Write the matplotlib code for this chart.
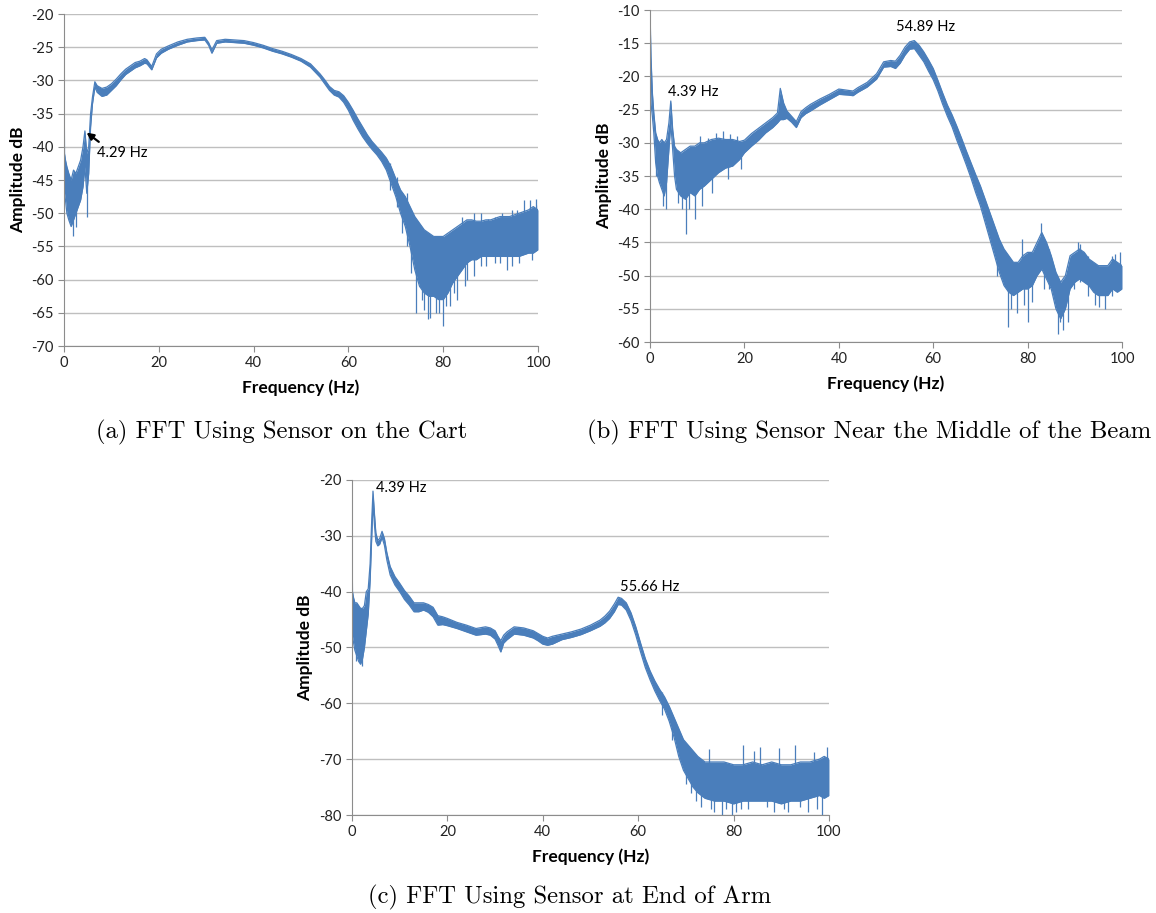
import matplotlib
matplotlib.use("Agg")
import matplotlib.pyplot as plt

plt.rcParams["axes.unicode_minus"] = False

# ---- data (upper / lower edge of the trace) ----
a_freq = [0, 0.1, 0.3, 0.6, 1.0, 1.5, 2.0, 2.5, 3.0, 3.5, 4.0, 4.4, 4.8, 5.2, 5.6, 6.0, 6.5, 7.0,
          8, 9, 10, 11, 12, 13, 14, 15, 16, 17, 17.5, 18.5, 19.5, 20.5, 22, 24, 26, 28, 29.7, 30.5,
          31.2, 32.2, 34, 36, 38, 40, 42, 44, 46, 48, 50, 52, 54, 55, 56, 57, 58, 59, 60, 61, 62,
          63, 64, 65, 66, 67, 68, 69, 70, 71, 72, 73, 74, 75, 76, 77, 78, 79, 80, 81, 82, 83, 84,
          85, 86, 87, 88, 89, 90, 92, 94, 96, 98, 99, 100]
a_hi = [-28, -41, -42, -43, -44, -45, -43.5, -44, -43, -42, -40, -37.6, -41, -40, -35, -32.5, -30.2, -30.8,
        -31.2, -31, -30.5, -29.8, -29, -28.3, -27.8, -27.3, -27.1, -26.7, -26.9, -27.9, -26, -25.3, -24.8, -24.2, -23.8, -23.6, -23.5, -24.3,
        -25.4, -24, -23.8, -23.9, -24, -24.3, -24.7, -25.2, -25.6, -26.1, -26.7, -27.5, -29, -29.9, -30.9, -31.5, -31.7, -32.3, -33.3, -34.5, -35.8,
        -37, -38.2, -39.2, -40, -40.8, -41.7, -43, -44.8, -46.5, -47.5, -49, -50.5, -51.5, -52.5, -53, -53.5, -53.5, -53.5, -53, -52.5, -52, -51.5,
        -51, -51, -51.2, -51.2, -51, -51, -50.5, -50.5, -50, -49.5, -49, -49.5]
a_lo = [-42, -47, -48, -50, -51, -52, -51, -50, -49, -48, -46, -43, -47, -44, -37, -33.5, -31, -31.8,
        -32.4, -32.2, -31.5, -30.8, -29.9, -29.1, -28.6, -28.1, -27.8, -27.4, -27.5, -28.4, -26.6, -25.9, -25.3, -24.7, -24.2, -24, -23.9, -24.7,
        -25.9, -24.4, -24.2, -24.3, -24.4, -24.7, -25.1, -25.6, -26, -26.5, -27.1, -28, -29.5, -30.5, -31.5, -32.2, -32.5, -33.3, -34.5, -36, -37.3,
        -38.5, -39.5, -40.4, -41.2, -42.2, -43.5, -45.5, -47.5, -50, -52, -55, -58.5, -61, -62, -62.5, -62.5, -63, -63, -62, -60.5, -59.5, -58.5,
        -57.5, -57, -57, -56.5, -56.5, -56.5, -56.5, -56.5, -56.5, -56, -56, -55.5]
a_spike_freq = [1.8, 2.6, 4.8, 68.8, 70.3, 71.2, 72.4, 73.2, 74.2, 75.6, 76, 76.8, 77.2, 78.5, 79.2, 80.0, 80.5,
                81.5, 82.2, 83, 84, 84.5, 85, 86.5, 86.6, 88, 89, 89.5, 91, 92, 92.5, 93.5, 94.5, 95.5, 96,
                97, 98.3, 98.8, 99.5, 100]
a_spike_lo = [-53.5, -52, -50.5, -46.5, -49, -53, -55, -59, -65, -63, -64.5, -66, -65.8, -65, -65, -67, -64,
              -64, -62, -63, -55, -61, -60, -55, -59.5, -58, -58, -55, -57.5, -57.5, -54, -58.5, -58, -54, -57.5,
              -56, -53, -57, -55.5, -54]
a_spike_hi = [-45, -44, -42, -42.5, -44.5, -47, -47, -50, -55, -55, -60, -58, -60, -57, -60, -60, -60,
              -57, -58, -58, -50.5, -57, -54, -50, -56, -50, -55, -50.8, -50.5, -55, -50, -55, -49.5, -49.5, -55,
              -48, -48, -54.5, -47.8, -48.7]

b_freq = [0, 0.2, 0.5, 0.8, 1.2, 1.6, 2.0, 2.5, 3.0, 3.5, 4.0, 4.4, 4.8, 5.2, 5.6, 6.5, 7.5, 8.5, 9.5,
          10.5, 11.5, 13, 14.5, 16, 17.5, 19, 20, 21.5, 23, 24.5, 26, 27, 27.6, 28.3, 29, 30, 31, 32,
          33, 34, 36, 38, 40, 42, 43, 44, 46, 48, 49.5, 51, 52, 53, 54, 55, 56, 57, 58, 59, 60, 61,
          62, 63, 64, 65, 66, 67, 68, 69, 70, 71, 72, 73, 74, 75, 76, 77, 78, 79, 80, 81, 82, 83,
          84, 85, 86, 87, 88, 89, 90, 91, 92, 93, 94, 95, 96, 97, 98, 99, 100]
b_hi = [-10, -17, -22.5, -25.5, -28.5, -29.5, -30, -29.5, -30, -29.5, -27, -23.7, -28, -30.5, -31, -31.5, -31, -30.5, -30.5,
        -30, -30, -29.5, -29.3, -29.5, -29.5, -29.8, -29.6, -28.6, -27.8, -27, -26.2, -25.5, -21.8, -24, -25.2, -26, -26.8, -25.3,
        -24.7, -24.2, -23.4, -22.7, -21.9, -22.1, -22.2, -21.7, -20.9, -19.6, -17.8, -17.6, -17.7, -16.8, -15.6, -14.8, -14.6, -15.3, -16.3, -17.5, -18.8, -20.6,
        -22.5, -24.3, -25.8, -27.5, -29.3, -31.2, -33, -34.8, -36.5, -38.5, -40.5, -42.5, -44.5, -46, -47, -48, -48, -47, -46.5, -46.5, -45, -43.5,
        -45, -47, -49.5, -51, -50, -47, -46.5, -46, -46.5, -47.5, -48, -48.5, -48.5, -48.5, -47.5, -48, -48.5]
b_lo = [-20, -24, -26, -28.5, -33, -35, -36, -37, -38, -36, -31, -27, -31, -35, -37, -38, -38.5, -37.5, -38,
        -37, -36.5, -35.5, -34.5, -33.8, -33.5, -32.5, -31.5, -30.5, -29.6, -28.5, -27.7, -27, -26.5, -26.5, -26.3, -26.9, -27.7, -26.2,
        -25.6, -25.2, -24.3, -23.5, -22.7, -22.8, -22.9, -22.4, -21.6, -20.4, -18.6, -18.5, -18.8, -18, -16.8, -15.9, -15.8, -16.8, -17.8, -19.2, -20.5, -22.2,
        -24.2, -26, -27.6, -29.6, -31.4, -33.3, -35.3, -37.5, -39.5, -42, -44.5, -47, -49.5, -51.5, -52.5, -53, -52.5, -52, -52, -51.5, -50, -49,
        -50.5, -52, -55, -56.5, -55, -52, -51, -50.5, -51, -51.5, -52.5, -53, -53, -53, -52, -52.5, -52]
b_spike_freq = [1.3, 2.7, 3.3, 5.9, 6.8, 7.6, 8.2, 9.6, 10.5, 11, 12.3, 13.2, 14, 15.5, 16.5, 17, 18.5, 19.2,
                73.5, 75.8, 76.5, 77.8, 78.8, 79.3, 80.1, 81, 82.9, 83.5, 84.5, 86.4, 86.9, 87.6, 88.5, 89.8,
                90.6, 91.2, 92.7, 94.3, 95.2, 96.5, 97.8, 98.6, 99.5]
b_spike_lo = [-35, -39.5, -40, -39, -40, -43.8, -40, -41.5, -33, -39.5, -33, -37.5, -32, -31, -35.5, -31.5, -31, -34,
              -50, -57.8, -55, -55.6, -50, -54.5, -57, -54, -47, -52, -52, -58.8, -57, -58.2, -57, -52,
              -50, -51, -53, -54.5, -54.8, -55, -53, -52, -51]
b_spike_hi = [-29, -33, -34, -33, -34, -37, -36, -36, -29, -35, -29.3, -34, -28.5, -28.2, -32.5, -28.6, -29, -31.5,
              -46, -52, -50, -51, -44.5, -50, -51, -50, -42, -48, -46, -54, -53, -54, -52, -46.8,
              -45, -45.3, -47, -50, -52, -51, -47, -46.8, -46.5]

c_freq = [0, 0.1, 0.3, 0.6, 1.0, 1.4, 1.8, 2.2, 2.6, 3.0, 3.4, 3.8, 4.1, 4.4, 4.7, 5.0, 5.4, 5.8,
          6.3, 6.8, 7.3, 8, 9, 10, 11, 12, 13, 14, 15, 16, 17, 18, 19, 20, 22, 24, 26, 28, 29, 30,
          30.6, 31.2, 31.8, 32.5, 34, 36, 38, 39, 40, 41, 42, 44, 46, 48, 50, 52, 53, 54, 55, 55.8,
          56.5, 57.5, 58.5, 59.5, 60.5, 61.5, 62.5, 63.5, 64.5, 65.5, 66.5, 67.5, 68.5, 69.5, 70.5,
          71.5, 72.5, 74, 76, 78, 80, 82, 84, 86, 88, 90, 92, 94, 96, 98, 99, 100]
c_hi = [-31.5, -40, -41, -42, -42, -42.5, -43, -43, -42.5, -40, -39.5, -35, -28, -22, -26, -29.5, -30.8, -30.5,
        -29.2, -30.5, -33, -35.5, -37.3, -38.5, -39.8, -40.8, -42, -42, -42, -42.3, -42.8, -44.3, -44.5, -44.8, -45.5, -46, -46.6, -46.3, -46.5, -47,
        -48, -48.8, -47.8, -47.2, -46.3, -46.5, -47, -47.5, -48, -48.3, -48, -47.6, -47.2, -46.7, -46, -45.1, -44.4, -43.5, -42.2, -41,
        -41.2, -42, -43.8, -46.3, -49.2, -52, -54.2, -56, -57.5, -58.8, -60.5, -62.5, -64.5, -66.5, -67.5,
        -68.5, -69.5, -70.5, -70.5, -70.5, -71, -71, -70.5, -71, -70.5, -71, -71, -70.5, -70.5, -70, -69.5, -70]
c_lo = [-44, -48, -49, -50.5, -51.5, -52.5, -53, -52, -50, -47, -44, -38, -31, -24, -28, -31, -31.8, -31.5,
        -30.3, -31.7, -34.3, -37, -38.8, -40, -41.4, -42.4, -43.6, -43.6, -43.3, -43.7, -44.5, -46, -45.9, -46.1, -46.6, -47.2, -47.8, -47.6, -47.8, -48.5,
        -49.6, -50.8, -49.2, -48.6, -47.6, -47.8, -48.3, -48.8, -49.4, -49.6, -49.4, -48.6, -48.2, -47.7, -47, -46.2, -45.6, -44.8, -43.6, -42.3,
        -42.4, -43.3, -45.2, -47.8, -50.8, -53.6, -55.8, -57.8, -59.5, -61, -63.2, -66, -69.5, -72, -73.5,
        -75, -76, -77, -77.5, -77.5, -78, -77.5, -77.5, -77.5, -77.5, -78, -77.5, -77.5, -77, -76.5, -77, -76.5]
c_spike_freq = [0.8, 2.0, 65, 67, 70, 71, 72.2, 73.2, 74.8, 75.3, 76, 77.5, 78.5, 79.6, 80.5, 81.5, 82, 83,
                84.3, 85.5, 87, 88.5, 89.5, 90.5, 91.5, 92.8, 94, 95.5, 96.8, 97.5, 98.6, 99.5, 100]
c_spike_lo = [-52.5, -53.3, -62, -66.5, -74.5, -76, -77.5, -78.5, -73, -79, -79.5, -80, -79, -80, -79.5, -79, -73, -79,
              -73, -73, -78.5, -79.5, -73, -79, -79.5, -73, -78.5, -79.5, -73, -79, -80, -74, -76]
c_spike_hi = [-47, -48, -58, -62, -68, -69, -70.5, -70, -68.2, -73, -72, -74, -73, -74, -73, -73, -67.5, -73,
              -68.5, -67.8, -73, -74, -68, -73, -74, -67.5, -73, -74, -68.8, -73, -74, -67.8, -69.5]

captions = ["(a) FFT Using Sensor on the Cart",
            "(b) FFT Using Sensor Near the Middle of the Beam",
            "(c) FFT Using Sensor at End of Arm"]

blue = "#4a7ebb"
chart_font = "Lato"


def fft_panel(ax, f, hi, lo, sf, slo, shi, ylim, ystep, ylab_x, xlab_y):
    ax.fill_between(f, lo, hi, color=blue, lw=0)
    ax.plot(f, hi, color=blue, lw=0.9)
    ax.plot(f, lo, color=blue, lw=0.9)
    ax.vlines(sf, slo, shi, color=blue, lw=0.9)
    ax.set_xlim(0, 100)
    ax.set_ylim(*ylim)
    ax.set_xticks(range(0, 101, 20))
    ax.set_yticks(range(ylim[0], ylim[1] + 1, ystep))
    ax.yaxis.grid(True, color="#bfbfbf", lw=1)
    ax.set_axisbelow(True)
    for s in ["top", "right"]:
        ax.spines[s].set_visible(False)
    for s in ["left", "bottom"]:
        ax.spines[s].set_color("#8c8c8c")
    ax.tick_params(colors="#8c8c8c", length=4, width=0.8, labelcolor="#222222", labelsize=10.5)
    for lab in ax.get_xticklabels() + ax.get_yticklabels():
        lab.set_fontfamily(chart_font)
    ax.set_xlabel("Frequency (Hz)", fontsize=12.5, fontweight="bold", family=chart_font)
    ax.set_ylabel("Amplitude dB", fontsize=12.5, fontweight="bold", family=chart_font)
    ax.xaxis.set_label_coords(0.5, xlab_y)
    ax.yaxis.set_label_coords(ylab_x, 0.5)


fig = plt.figure(figsize=(11.56, 9.13), dpi=100)
ax_a = fig.add_axes([0.0554, 0.621, 0.410, 0.3636])
ax_b = fig.add_axes([0.5623, 0.6254, 0.4083, 0.3636])
ax_c = fig.add_axes([0.3045, 0.1073, 0.4126, 0.367])

fft_panel(ax_a, a_freq, a_hi, a_lo, a_spike_freq, a_spike_lo, a_spike_hi, (-70, -20), 5, -0.08, -0.1)
fft_panel(ax_b, b_freq, b_hi, b_lo, b_spike_freq, b_spike_lo, b_spike_hi, (-60, -10), 5, -0.08, -0.1)
fft_panel(ax_c, c_freq, c_hi, c_lo, c_spike_freq, c_spike_lo, c_spike_hi, (-80, -20), 10, -0.082, -0.1)

# peak labels
ax_a.annotate("", xy=(4.29, -37.6), xytext=(7.8, -39.5),
              arrowprops=dict(arrowstyle="-|>", color="black", lw=1.6, mutation_scale=10))
ax_a.text(7.0, -40.9, "4.29 Hz", fontsize=10.5, family=chart_font, va="center", ha="left")
ax_b.text(3.8, -22.3, "4.39 Hz", fontsize=10.5, family=chart_font, va="center", ha="left")
ax_b.text(52.1, -12.6, "54.89 Hz", fontsize=10.5, family=chart_font, va="center", ha="left")
ax_c.text(5.0, -21.4, "4.39 Hz", fontsize=10.5, family=chart_font, va="center", ha="left")
ax_c.text(56.2, -39.2, "55.66 Hz", fontsize=10.5, family=chart_font, va="center", ha="left")

# sub-figure captions
fig.text(282 / 1156, 1 - 432 / 913, captions[0], fontsize=17.8, family="cmr10", ha="center", va="center")
fig.text(869 / 1156, 1 - 432 / 913, captions[1], fontsize=17.8, family="cmr10", ha="center", va="center")
fig.text(570 / 1156, 1 - 897 / 913, captions[2], fontsize=17.8, family="cmr10", ha="center", va="center")

fig.savefig("out.png", dpi=100)
